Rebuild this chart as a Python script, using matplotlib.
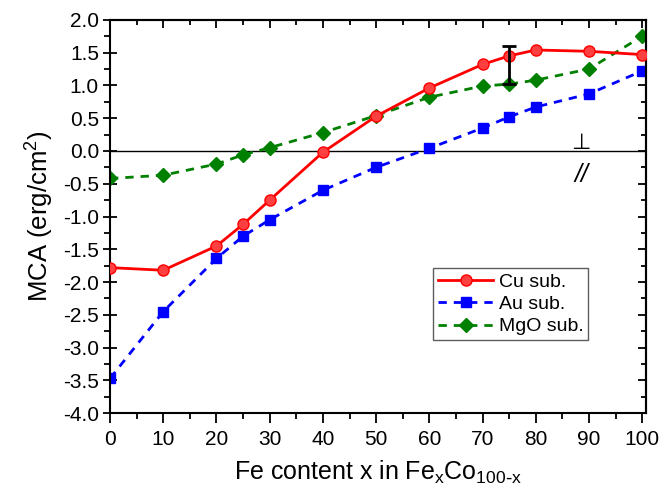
import numpy as np
import matplotlib.pyplot as plt

plt.rcParams['font.family'] = ['Liberation Sans', 'DejaVu Sans']

x = [0, 10, 20, 25, 30, 40, 50, 60, 70, 75, 80, 90, 100]
cu = [-1.78, -1.82, -1.45, -1.12, -0.75, -0.02, 0.53, 0.96, 1.32, 1.45, 1.54, 1.52, 1.47]
au = [-3.47, -2.45, -1.64, -1.30, -1.05, -0.60, -0.25, 0.04, 0.35, 0.52, 0.67, 0.87, 1.22]
mgo = [-0.42, -0.37, -0.20, -0.06, 0.05, 0.28, 0.54, 0.82, 0.99, 1.02, 1.08, 1.25, 1.75]
err_x = 75
err_lo, err_hi = 1.02, 1.60

fig = plt.figure(figsize=(6.63, 4.96), dpi=100)
ax = fig.add_axes([0.166, 0.167, 0.809, 0.793])

ax.axhline(0, color='k', lw=1, zorder=1)
ax.plot(x, cu, '-o', color='red', lw=2, ms=8, mfc='#ff4040', mec='red', label='Cu sub.', zorder=3)
ax.plot(x, au, '--s', color='blue', lw=2, ms=7, dashes=(3, 2.5), label='Au sub.', zorder=2)
ax.plot(x, mgo, '--D', color='green', lw=2, ms=7, dashes=(3, 2.5), label='MgO sub.', zorder=2)
ax.errorbar([err_x], [(err_lo + err_hi) / 2], yerr=[(err_hi - err_lo) / 2], fmt='none',
            ecolor='k', elinewidth=2, capsize=5, capthick=2, zorder=4)

ax.text(88.5, 0.12, '\u22a5', fontsize=16, ha='center', va='center')
ax.text(88.5, -0.36, '//', fontsize=18, ha='center', va='center', style='italic')

ax.set_xlim(0, 100.8)
ax.set_ylim(-4.0, 2.0)
ax.set_xticks(np.arange(0, 101, 10))
ax.set_xticks(np.arange(0, 101, 5), minor=True)
ax.set_yticks(np.arange(-4.0, 2.01, 0.5))
ax.set_yticks(np.arange(-4.0, 2.01, 0.25), minor=True)
ax.set_yticklabels(['%.1f' % v for v in np.arange(-4.0, 2.01, 0.5)])
ax.tick_params(axis='both', which='major', labelsize=15, length=7, width=1.3, direction='out', pad=5)
ax.tick_params(axis='y', which='major', direction='inout', length=10, pad=3)
ax.tick_params(axis='both', which='minor', length=4, width=1.3, direction='out')
axt = ax.secondary_xaxis('top')
axt.set_xticks(np.arange(0, 101, 10), labels=[])
axt.set_xticks(np.arange(0, 101, 5), minor=True)
axt.tick_params(which='major', direction='in', length=6, width=1.3)
axt.tick_params(which='minor', direction='in', length=3.5, width=1.3)
axr = ax.secondary_yaxis('right')
axr.set_yticks(np.arange(-4.0, 2.01, 0.5), labels=[])
axr.set_yticks(np.arange(-4.0, 2.01, 0.25), minor=True)
axr.tick_params(which='major', direction='in', length=6, width=1.3)
axr.tick_params(which='minor', direction='in', length=3.5, width=1.3)
for a in [ax, axt, axr]:
    for s in a.spines.values():
        s.set_linewidth(1.5)

ax.set_xlabel('Fe content x in Fe$_\\mathregular{x}$Co$_\\mathregular{100\\text{-}x}$', fontsize=18, labelpad=7)
ax.set_ylabel('MCA (erg/cm$^\\mathregular{2}$)', fontsize=18.5, labelpad=6)

leg = ax.legend(loc='upper left', bbox_to_anchor=(0.603, 0.369), fontsize=14, frameon=True,
                fancybox=False, edgecolor='#333333', handlelength=2.8, borderpad=0.25,
                labelspacing=0.25, handletextpad=0.3, borderaxespad=0)
leg.get_frame().set_linewidth(1)

plt.savefig('out.png', dpi=100)
